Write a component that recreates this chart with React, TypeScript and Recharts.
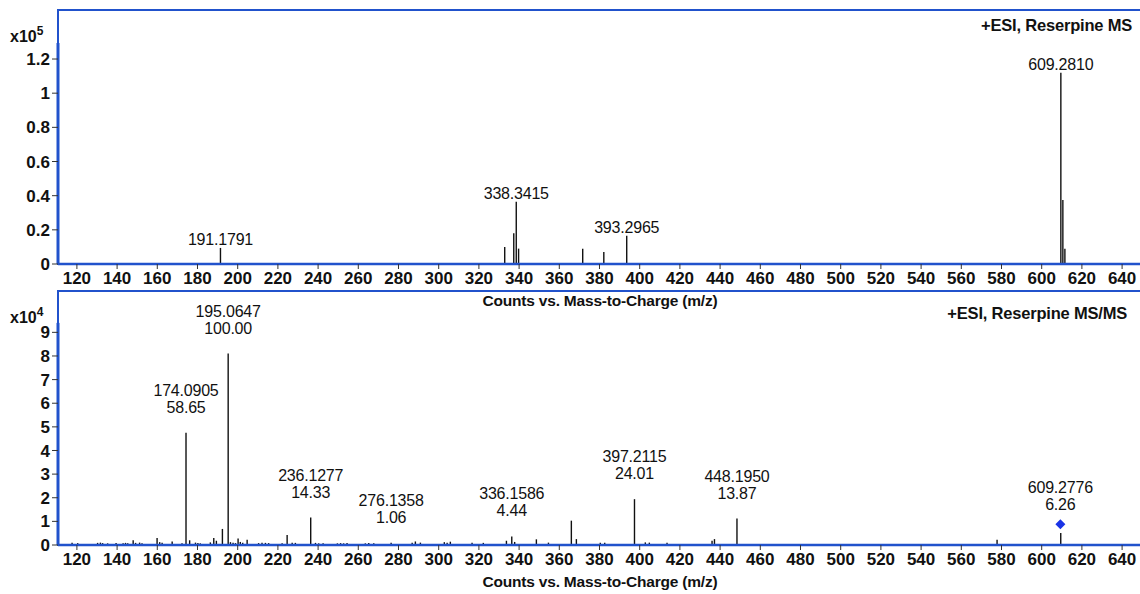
import React from "react";
import {
  ComposedChart,
  Bar,
  Scatter,
  XAxis,
  YAxis,
  ReferenceArea,
  ReferenceLine,
  LabelList,
} from "recharts";

// ---- MS scan (upper panel), counts ----
const msMz = [191.1791, 332.6, 337.1, 338.3415, 339.5, 371.4, 381.9, 393.2965, 609.281, 610.28, 611.29];
const msCounts = [9400, 10000, 18000, 36500, 9000, 9000, 7000, 16500, 112000, 37500, 9000];
const msTagged = ["191.1791", "338.3415", "393.2965", "609.2810"];

// ---- MS/MS scan (lower panel), counts ----
const msmsMz = [
  117.4, 120.2, 130.1, 131.5, 132.6, 135.1, 139.3, 142.8, 144.0, 145.1, 147.8, 149.0, 151.0, 152.2,
  159.7, 161.0, 162.2, 167.2, 172.1, 174.0905, 175.9, 178.8, 180.0, 181.2, 186.2, 187.9, 189.2,
  192.2, 195.0647, 196.2, 197.5, 198.7, 200.0, 201.1, 202.3, 204.5, 210.2, 211.9, 213.6, 215.2,
  221.9, 224.4, 226.9, 228.5, 236.1277, 238.5, 240.1, 242.3, 249.4, 251.0, 252.5, 254.2, 263.3,
  265.0, 267.5, 276.1358, 286.6, 288.2, 290.7, 302.6, 304.0, 305.6, 316.4, 322.0, 333.5, 336.1586,
  337.6, 348.4, 354.4, 365.8, 368.3, 380.2, 382.4, 397.2115, 402.6, 404.6, 413.4, 435.8, 437.0,
  448.195, 577.6, 609.2776,
];
const msmsCounts = [
  900, 800, 900, 1000, 800, 700, 800, 700, 900, 700, 2000, 900, 1000, 700,
  3000, 1200, 900, 1500, 700, 47500, 2000, 1000, 800, 700, 1100, 3000, 1800,
  6800, 81000, 1200, 900, 800, 2800, 1300, 900, 2200, 800, 900, 900, 800,
  700, 4200, 1000, 900, 11600, 900, 700, 700, 700, 800, 700, 800, 700,
  800, 700, 900, 900, 1500, 1000, 1200, 1000, 1400, 1000, 900, 1800, 3600,
  1300, 2400, 1000, 10300, 2500, 1000, 1000, 19400, 1100, 1000, 900, 1800, 2500,
  11200, 2200, 5100,
];
const msmsTagged = ["174.0905", "195.0647", "236.1277", "276.1358", "336.1586", "397.2115", "448.1950"];
const msmsRelAbund = ["58.65", "100.00", "14.33", "1.06", "4.44", "24.01", "13.87"];

// precursor marker
const precursorMz = [609.2776];
const precursorMark = [8800];
const precursorTag = ["609.2776"];
const precursorRelAbund = ["6.26"];

const mzTicks = [120, 140, 160, 180, 200, 220, 240, 260, 280, 300, 320, 340, 360, 380, 400, 420, 440, 460, 480, 500, 520, 540, 560, 580, 600, 620, 640];
const msTicks = [0, 20000, 40000, 60000, 80000, 100000, 120000];
const msmsTicks = [0, 10000, 20000, 30000, 40000, 50000, 60000, 70000, 80000, 90000];

const msData = msMz.map((mz, i) => ({
  mz,
  counts: msCounts[i],
  label: msTagged.find((t) => Number(t) === mz) || "",
}));

const msmsData = msmsMz.map((mz, i) => {
  const k = msmsTagged.findIndex((t) => Number(t) === mz);
  return { mz, counts: msmsCounts[i], label: k >= 0 ? msmsTagged[k] + "\n" + msmsRelAbund[k] : "" };
});

const precursorData = precursorMz.map((mz, i) => ({
  mz,
  counts: precursorMark[i],
  label: precursorTag[i] + "\n" + precursorRelAbund[i],
}));

const BLUE = "#2152cc";
const INK = "#111";
const FONT = "'Liberation Sans', Arial, sans-serif";
const MZ_MIN = 110.6;
const MZ_MAX = 649.9;

const Stick = (p: any) => {
  const cx = p.x + p.width / 2;
  return <line x1={cx} x2={cx} y1={p.y} y2={p.y + p.height} stroke={INK} strokeWidth={1.4} />;
};

const Tag = (p: any) => {
  if (!p.value) return null;
  const cx = p.x + p.width / 2;
  const lines = String(p.value).split("\n");
  const base = lines.length > 1 ? p.y - 20 : p.y - 3;
  return (
    <text textAnchor="middle" fontSize={16} fill={INK} fontFamily={FONT} letterSpacing={-0.2}>
      {lines.map((s, i) => (
        <tspan key={i} x={cx} y={base - (lines.length - 1 - i) * 17}>
          {s}
        </tspan>
      ))}
    </text>
  );
};

const Diamond = (p: any) => {
  const { cx, cy, payload } = p;
  const lines = String(payload.label).split("\n");
  return (
    <g>
      <polygon points={`${cx},${cy - 5} ${cx + 5},${cy} ${cx},${cy + 5} ${cx - 5},${cy}`} fill="#1a33e6" />
      <text textAnchor="middle" fontSize={16} fill={INK} fontFamily={FONT} letterSpacing={-0.2}>
        {lines.map((s, i) => (
          <tspan key={i} x={cx} y={cy - 14 - (lines.length - 1 - i) * 17}>
            {s}
          </tspan>
        ))}
      </text>
    </g>
  );
};

const tickStyle = { fontSize: 17, fill: INK, fontFamily: FONT, fontWeight: "bold" };

interface PanelProps {
  data: any[];
  yTicks: number[];
  yMax: number;
  axisTop: number;
  scale: number;
  children?: React.ReactNode;
}

const Panel = ({ data, yTicks, yMax, axisTop, scale, children }: PanelProps) => (
  <ComposedChart width={1142} height={310} data={data} margin={{ top: 10, right: 0, bottom: 6, left: 0 }}>
    <ReferenceArea
      x1={MZ_MIN}
      x2={MZ_MAX}
      y1={0}
      y2={yMax}
      fill="none"
      stroke={BLUE}
      strokeWidth={2}
      ifOverflow="visible"
    />
    <XAxis
      type="number"
      dataKey="mz"
      domain={[MZ_MIN, MZ_MAX]}
      allowDataOverflow
      ticks={mzTicks}
      interval={0}
      height={40}
      tick={tickStyle}
      tickSize={5}
      tickMargin={3}
      tickLine={{ stroke: "#333" }}
      axisLine={{ stroke: BLUE, strokeWidth: 2.5 }}
      label={{
        value: "Counts vs. Mass-to-Charge (m/z)",
        position: "insideBottom",
        offset: -2,
        style: { fontSize: 15.5, fill: INK, fontFamily: FONT, fontWeight: "bold", letterSpacing: -0.2, textAnchor: "middle" },
      }}
    />
    <YAxis
      type="number"
      domain={[0, yMax]}
      allowDataOverflow
      ticks={yTicks}
      interval={0}
      width={58}
      axisLine={false}
      tickSize={6}
      tickMargin={2}
      tickLine={{ stroke: "#333" }}
      tick={tickStyle}
      tickFormatter={(v: number) => String(v / scale)}
    />
    <ReferenceLine
      segment={[
        { x: MZ_MIN, y: 0 },
        { x: MZ_MIN, y: axisTop },
      ]}
      stroke={BLUE}
      strokeWidth={3}
      ifOverflow="visible"
    />
    <Bar dataKey="counts" barSize={1} shape={Stick} isAnimationActive={false}>
      <LabelList dataKey="label" content={Tag} />
    </Bar>
    {children}
  </ComposedChart>
);

const corner: React.CSSProperties = {
  position: "absolute",
  fontFamily: FONT,
  color: INK,
  whiteSpace: "nowrap",
};

export default function App() {
  return (
    <div
      style={{
        position: "fixed",
        left: 0,
        top: 0,
        width: 1140,
        height: 594,
        overflow: "hidden",
        background: "#fff",
      }}
    >
      <div style={{ position: "absolute", left: 0, top: 0 }}>
        <Panel data={msData} yTicks={msTicks} yMax={148700} axisTop={129400} scale={100000} />
      </div>
      <div style={{ position: "absolute", left: 0, top: 281 }}>
        <Panel data={msmsData} yTicks={msmsTicks} yMax={107500} axisTop={94000} scale={10000}>
          <Scatter data={precursorData} dataKey="counts" shape={Diamond} isAnimationActive={false} />
        </Panel>
      </div>
      <div style={{ ...corner, left: 10, top: 22, fontSize: 16, fontWeight: "bold", lineHeight: "20px" }}>
        x10<sup style={{ fontSize: 12, position: "relative", top: -1 }}>5</sup>
      </div>
      <div style={{ ...corner, left: 10, top: 303, fontSize: 16, fontWeight: "bold", lineHeight: "20px" }}>
        x10<sup style={{ fontSize: 12, position: "relative", top: -1 }}>4</sup>
      </div>
      <div style={{ ...corner, right: 8, top: 16, fontSize: 16.5, fontWeight: "bold", letterSpacing: -0.2, lineHeight: "18px" }}>
        +ESI, Reserpine MS
      </div>
      <div style={{ ...corner, right: 13, top: 304, fontSize: 16.5, fontWeight: "bold", letterSpacing: -0.2, lineHeight: "18px" }}>
        +ESI, Reserpine MS/MS
      </div>
    </div>
  );
}
